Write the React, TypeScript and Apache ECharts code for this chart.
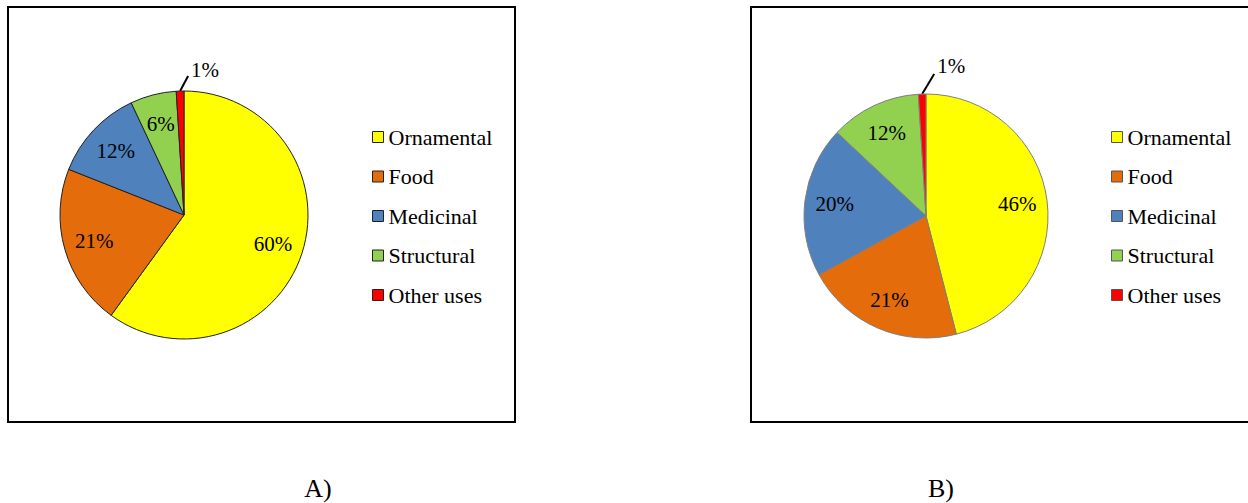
import React, { useEffect, useRef } from "react";
import * as echarts from "echarts";

const categories = ["Ornamental", "Food", "Medicinal", "Structural", "Other uses"];
const valuesA = [60, 21, 12, 6, 1];
const valuesB = [46, 21, 20, 12, 1];
const sliceColors = ["#FFFF00", "#E46C0A", "#4F81BD", "#92D050", "#FF0000"];
const panelCaptions = ["A)", "B)"];

const FONT = "'Liberation Serif', 'DejaVu Serif', serif";

function buildPanel(
  values: number[],
  center: [number, number],
  r: number,
  border: string,
  lead: { dx: number; dy: number; tx: number; ty: number }
) {
  const smallIdx = values.map((v, i) => (v < 2 ? i : -1)).filter((i) => i >= 0);
  const visible = {
    type: "pie",
    center,
    radius: [0, r],
    startAngle: 90,
    clockwise: true,
    avoidLabelOverlap: false,
    silent: true,
    emphasis: { disabled: true },
    itemStyle: { borderColor: border, borderWidth: 1 },
    label: {
      show: false,
      position: "outside",
      formatter: "{c}%",
      fontFamily: FONT,
      fontSize: 21,
      color: "#000",
    },
    labelLine: { show: false, length: 10, length2: 0, lineStyle: { color: "#000", width: 2 } },
    labelLayout: (params: any) => {
      if (smallIdx.indexOf(params.dataIndex) < 0) return {};
      const p = params.labelLinePoints;
      if (!p) return {};
      const s = p[0];
      const e = [s[0] + lead.dx, s[1] + lead.dy];
      return {
        x: e[0] + lead.tx,
        y: e[1] + lead.ty,
        align: "left",
        verticalAlign: "middle",
        labelLinePoints: [s, e, e],
      };
    },
    data: categories.map((name, i) => ({
      name,
      value: values[i],
      itemStyle: { color: sliceColors[i] },
      label: { show: smallIdx.indexOf(i) >= 0 },
      labelLine: { show: smallIdx.indexOf(i) >= 0 },
    })),
  };
  const labels = {
    type: "pie",
    center,
    radius: [Math.round(r * 0.46), r],
    startAngle: 90,
    clockwise: true,
    avoidLabelOverlap: false,
    silent: true,
    emphasis: { disabled: true },
    itemStyle: { color: "transparent", borderWidth: 0 },
    label: {
      show: true,
      position: "inside",
      formatter: "{c}%",
      fontFamily: FONT,
      fontSize: 21,
      color: "#000",
    },
    labelLine: { show: false },
    data: categories.map((name, i) => ({
      name,
      value: values[i],
      label: { show: smallIdx.indexOf(i) < 0 },
    })),
  };
  return [visible, labels];
}

function buildLegend(left: number, border: string) {
  return {
    orient: "vertical",
    left,
    top: 126,
    padding: 0,
    itemWidth: 11,
    itemHeight: 11,
    itemGap: 17.5,
    icon: "rect",
    selectedMode: false,
    itemStyle: { borderColor: border, borderWidth: 1 },
    textStyle: { fontFamily: FONT, fontSize: 22, color: "#000", lineHeight: 22, padding: [0, 0, 0, 0] },
    data: categories.map((name, i) => ({ name, itemStyle: { color: sliceColors[i] } })),
  };
}

export default function App() {
  const ref = useRef<HTMLDivElement>(null);
  useEffect(() => {
    if (!ref.current) return;
    const chart = echarts.init(ref.current, null, { renderer: "svg" });
    const option = {
      animation: false,
      backgroundColor: "#fff",
      legend: [buildLegend(372, "#222"), buildLegend(1111, "#555")],
      series: [
        ...buildPanel(valuesA, [184, 215], 124, "#222", { dx: 8, dy: -15, tx: 3, ty: -6 }),
        ...buildPanel(valuesB, [926, 216], 122, "#7f7f7f", { dx: 12, dy: -20, tx: 3, ty: -8 }),
      ],
      graphic: [
        {
          type: "rect",
          silent: true,
          shape: { x: 8, y: 7, width: 507, height: 415 },
          style: { fill: "none", stroke: "#000", lineWidth: 2 },
        },
        {
          type: "rect",
          silent: true,
          shape: { x: 751, y: 7, width: 600, height: 415 },
          style: { fill: "none", stroke: "#000", lineWidth: 2 },
        },
        {
          type: "text",
          silent: true,
          x: 318,
          y: 488,
          style: {
            text: panelCaptions[0],
            font: `26px ${FONT}`,
            fill: "#000",
            align: "center",
            verticalAlign: "middle",
          },
        },
        {
          type: "text",
          silent: true,
          x: 941,
          y: 488,
          style: {
            text: panelCaptions[1],
            font: `26px ${FONT}`,
            fill: "#000",
            align: "center",
            verticalAlign: "middle",
          },
        },
      ],
    };
    chart.setOption(option as any);
    return () => chart.dispose();
  }, []);
  return (
    <div
      ref={ref}
      style={{ position: "absolute", left: 0, top: 0, width: 1248, height: 503 }}
    />
  );
}
